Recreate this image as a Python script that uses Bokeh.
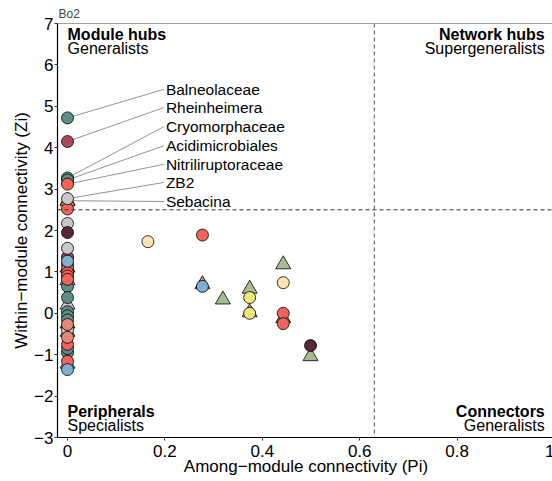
from bokeh.plotting import figure
from bokeh.models import ColumnDataSource, Span, Label, FixedTicker, LabelSet
from bokeh.core.properties import value
from bokeh.embed import file_html
from bokeh.resources import INLINE

# ---------------- data ----------------
palette = {
    "teal": "#5F8E86", "darkred": "#A8485A", "red": "#F2645B", "gray": "#C9C7C7",
    "maroon": "#5A2833", "blue": "#7DB0D2", "salmon": "#E68677", "yellow": "#EFE77C",
    "peach": "#FDE3B6", "sage": "#A9BC8F", "mint": "#4DB39A", "orange": "#D98C5A",
}

# circles (bacteria)
circ_pi = [0, 0, 0, 0, 0, 0, 0, 0, 0, 0,
           0, 0,
           0, 0, 0, 0, 0, 0, 0, 0, 0,
           0, 0, 0, 0,
           0, 0, 0, 0, 0,
           0.165, 0.277, 0.277, 0.374, 0.374, 0.443, 0.443, 0.443, 0.499]
circ_zi = [4.72, 3.27, 3.22, 0.65, 0.38, 0.04, -0.06, -0.16, -0.95, -0.85,
           4.15, 1.36,
           3.12, 2.52, 1.18, 1.08, 0.98, 0.90, 0.82, -0.75, -1.16,
           2.77, 2.17, 1.57, -0.40,
           1.95, 1.26, -1.36, -0.27, -0.58,
           1.73, 1.89, 0.65, 0.38, 0.00, 0.74, 0.00, -0.25, -0.78]
circ_col = ["teal"] * 10 + ["darkred"] * 2 + ["red"] * 9 + ["gray"] * 4 + \
           ["maroon", "blue", "blue", "salmon", "salmon"] + \
           ["peach", "red", "blue", "yellow", "yellow", "peach", "red", "red", "maroon"]

# triangles (fungi)
tri_pi = [0, 0, 0, 0, 0, 0, 0, 0,
          0.277, 0.319, 0.374, 0.374, 0.443, 0.443, 0.499]
tri_zi = [2.72, 2.70, 1.10, 0.80, 0.21, -0.25, -0.45, -1.22,
          0.70, 0.33, 0.59, 0.02, 1.18, -0.12, -1.04]
tri_col = ["gray", "orange", "sage", "sage", "gray", "mint", "gray", "sage",
           "orange", "sage", "sage", "sage", "sage", "mint", "sage"]

# labelled hubs
lab_names = ["Balneolaceae", "Rheinheimera", "Cryomorphaceae", "Acidimicrobiales",
             "Nitriliruptoraceae", "ZB2", "Sebacina"]
lab_pt_zi = [4.72, 4.15, 3.27, 3.22, 3.12, 2.77, 2.72]
lab_txt_zi = [5.41, 4.97, 4.51, 4.05, 3.60, 3.16, 2.70]
lab_txt_pi = 0.202

pi_threshold = 0.63
zi_threshold = 2.5

x_ticks = [0, 0.2, 0.4, 0.6, 0.8, 1.0]
x_tick_labels = ["0", "0.2", "0.4", "0.6", "0.8", "1"]
y_ticks = [-3, -2, -1, 0, 1, 2, 3, 4, 5, 6, 7]
y_tick_labels = ["\u22123", "\u22122", "\u22121", "0", "1", "2", "3", "4", "5", "6", "7"]

FONT = "Liberation Sans"

p = figure(frame_width=497, frame_height=414, x_range=(-0.0206, 1.0), y_range=(-3, 7),
           output_backend="svg", toolbar_location=None, title="Bo2",
           min_border_left=57, min_border_right=0, min_border_top=23, min_border_bottom=40)

p.title.text_font = FONT
p.title.text_font_size = "12px"
p.title.text_font_style = "normal"
p.title.standoff = 5
p.title.offset = 1

p.outline_line_color = None
p.grid.visible = False

for ax in (p.xaxis[0], p.yaxis[0]):
    ax.axis_line_color = "black"
    ax.axis_line_width = 1.2
    ax.major_tick_out = 3
    ax.major_tick_in = 0
    ax.major_tick_line_color = "#333333"
    ax.minor_tick_line_color = None
    ax.major_label_text_font = FONT
    ax.major_label_text_font_size = "17px"
    ax.major_label_text_color = "black"
    ax.axis_label_text_font = FONT
    ax.axis_label_text_font_size = "17px"
    ax.axis_label_text_font_style = "normal"
    ax.axis_label_text_color = "black"

p.xaxis.ticker = FixedTicker(ticks=x_ticks)
p.xaxis.major_label_overrides = dict(zip(x_ticks, x_tick_labels))
p.yaxis.ticker = FixedTicker(ticks=y_ticks)
p.yaxis.major_label_overrides = dict(zip(y_ticks, y_tick_labels))
p.xaxis.axis_label = "Among\u2212module connectivity (Pi)"
p.yaxis.axis_label = "Within\u2212module connectivity (Zi)"
p.xaxis.axis_label_standoff = -3
p.yaxis.axis_label_standoff = 0
p.xaxis.major_label_standoff = 4
p.yaxis.major_label_standoff = 1

# top border line
p.add_layout(Span(location=7, dimension="width", line_color="#444444", line_width=1.2))

# thresholds
p.add_layout(Span(location=zi_threshold, dimension="width", line_color="#333333",
                  line_dash="4 3", line_width=1))
p.add_layout(Span(location=pi_threshold, dimension="height", line_color="#555555",
                  line_dash="4 3", line_width=1))

# label segments
seg = ColumnDataSource(dict(x0=[0] * len(lab_names), y0=lab_pt_zi,
                            x1=[lab_txt_pi - 0.004] * len(lab_names), y1=lab_txt_zi,
                            name=lab_names, tx=[lab_txt_pi] * len(lab_names)))
p.segment(x0="x0", y0="y0", x1="x1", y1="y1", source=seg, line_color="#888888", line_width=0.9)

# points
tsrc = ColumnDataSource(dict(x=tri_pi, y=tri_zi, c=[palette[k] for k in tri_col]))
p.scatter("x", "y", source=tsrc, marker="triangle", size=15, fill_color="c",
          line_color="black", line_width=0.8)
csrc = ColumnDataSource(dict(x=circ_pi, y=circ_zi, c=[palette[k] for k in circ_col]))
p.scatter("x", "y", source=csrc, marker="circle", size=12, fill_color="c",
          line_color="black", line_width=0.8)

# labels text
p.add_layout(LabelSet(x="tx", y="y1", text="name", source=seg, text_font=value(FONT),
                      text_font_size="15.5px", text_baseline="middle", text_align="left",
                      text_color="black"))

# quadrant annotations
def qlabel(x, y, t, align, bold):
    p.add_layout(Label(x=x, y=y, text=t, text_font=FONT, text_font_size="16px",
                       text_font_style="bold" if bold else "normal",
                       text_align=align, text_baseline="middle", text_color="black"))

qlabel(0.0, 6.73, "Module hubs", "left", True)
qlabel(0.0, 6.40, "Generalists", "left", False)
qlabel(0.98, 6.73, "Network hubs", "right", True)
qlabel(0.98, 6.40, "Supergeneralists", "right", False)
qlabel(0.0, -2.365, "Peripherals", "left", True)
qlabel(0.0, -2.70, "Specialists", "left", False)
qlabel(0.98, -2.365, "Connectors", "right", True)
qlabel(0.98, -2.70, "Generalists", "right", False)

open("out.html", "w").write(file_html(p, INLINE))
